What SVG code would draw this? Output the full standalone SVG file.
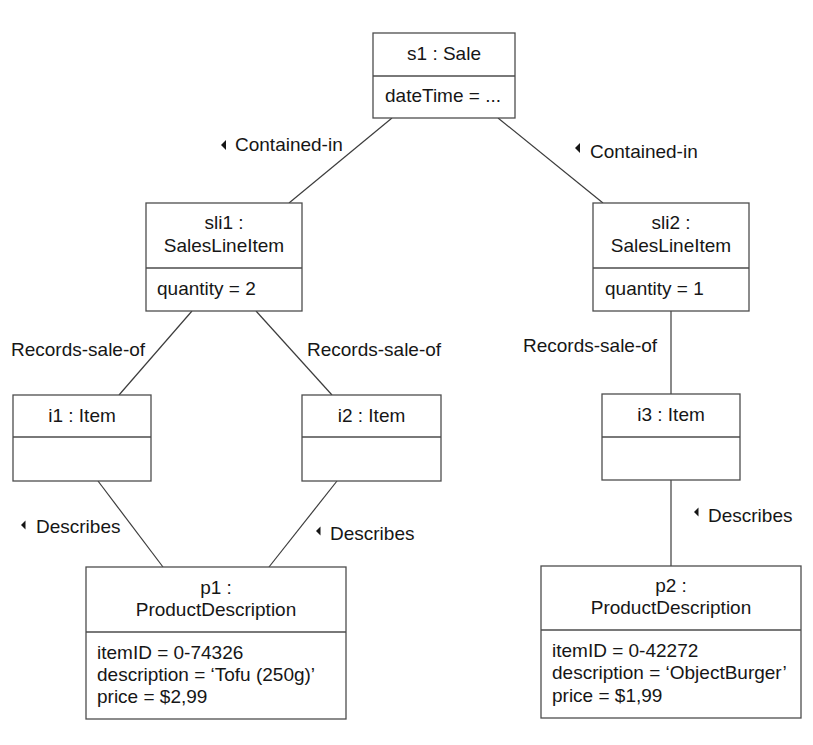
<svg xmlns="http://www.w3.org/2000/svg" width="813" height="745" viewBox="0 0 813 745">
<style>
  text { font-family: "Liberation Sans", Arial, sans-serif; font-size: 19px; fill: #161616; }
  .c { text-anchor: middle; }
  .box { fill: #ffffff; stroke: #4d4d4d; stroke-width: 1.3; }
  .div { stroke: #4d4d4d; stroke-width: 1.3; }
  .conn line { stroke: #3c3c3c; stroke-width: 1.2; }
  .tri { fill: #161616; }
</style>
<rect width="813" height="745" fill="#ffffff"/>
<g id="connectors" class="conn">
  <line x1="392" y1="118" x2="289" y2="203"/>
  <line x1="498" y1="118" x2="603" y2="203"/>
  <line x1="192" y1="311" x2="119" y2="395"/>
  <line x1="256" y1="311" x2="332" y2="395"/>
  <line x1="671" y1="311" x2="671" y2="394"/>
  <line x1="98" y1="481" x2="163" y2="567"/>
  <line x1="337" y1="481" x2="269" y2="567"/>
  <line x1="671" y1="480" x2="671" y2="566"/>
</g>
<g id="labels">
  <polygon class="tri" points="221,145 226,140 226,150"/>
  <text x="235" y="151">Contained-in</text>
  <polygon class="tri" points="575,148 580,143 580,153"/>
  <text x="590" y="158">Contained-in</text>
  <text x="11" y="356">Records-sale-of</text>
  <text x="307" y="356">Records-sale-of</text>
  <text x="523" y="352">Records-sale-of</text>
  <polygon class="tri" points="21,525 25.5,520.5 25.5,529.5"/>
  <text x="36" y="533">Describes</text>
  <polygon class="tri" points="316,531 320.5,526.5 320.5,535.5"/>
  <text x="330" y="540">Describes</text>
  <polygon class="tri" points="694,512 698.5,507.5 698.5,516.5"/>
  <text x="708" y="522">Describes</text>
</g>
<g id="s1">
  <rect class="box" x="373" y="33" width="142" height="85"/>
  <line class="div" x1="373" y1="76" x2="515" y2="76"/>
  <text class="c" x="444" y="60">s1 : Sale</text>
  <text x="385" y="102">dateTime = ...</text>
</g>
<g id="sli1">
  <rect class="box" x="146" y="203" width="156" height="108"/>
  <line class="div" x1="146" y1="268" x2="302" y2="268"/>
  <text class="c" x="224" y="229">sli1 :</text>
  <text class="c" x="224" y="252">SalesLineItem</text>
  <text x="157" y="295">quantity = 2</text>
</g>
<g id="sli2">
  <rect class="box" x="593" y="203" width="156" height="108"/>
  <line class="div" x1="593" y1="268" x2="749" y2="268"/>
  <text class="c" x="671" y="229">sli2 :</text>
  <text class="c" x="671" y="252">SalesLineItem</text>
  <text x="605" y="295">quantity = 1</text>
</g>
<g id="i1">
  <rect class="box" x="13" y="395" width="138" height="86"/>
  <line class="div" x1="13" y1="437" x2="151" y2="437"/>
  <text class="c" x="82" y="422">i1 : Item</text>
</g>
<g id="i2">
  <rect class="box" x="302" y="395" width="139" height="86"/>
  <line class="div" x1="302" y1="437" x2="441" y2="437"/>
  <text class="c" x="371.5" y="422">i2 : Item</text>
</g>
<g id="i3">
  <rect class="box" x="602" y="394" width="138" height="86"/>
  <line class="div" x1="602" y1="437" x2="740" y2="437"/>
  <text class="c" x="671" y="421">i3 : Item</text>
</g>
<g id="p1">
  <rect class="box" x="86" y="567" width="260" height="152"/>
  <line class="div" x1="86" y1="632" x2="346" y2="632"/>
  <text class="c" x="216" y="594">p1 :</text>
  <text class="c" x="216" y="616">ProductDescription</text>
  <text x="97" y="659">itemID = 0-74326</text>
  <text x="97" y="681">description = ‘Tofu (250g)’</text>
  <text x="97" y="703">price = $2,99</text>
</g>
<g id="p2">
  <rect class="box" x="541" y="566" width="260" height="152"/>
  <line class="div" x1="541" y1="630" x2="801" y2="630"/>
  <text class="c" x="671" y="592">p2 :</text>
  <text class="c" x="671" y="614">ProductDescription</text>
  <text x="552" y="657">itemID = 0-42272</text>
  <text x="552" y="679">description = ‘ObjectBurger’</text>
  <text x="552" y="702">price = $1,99</text>
</g>
</svg>
